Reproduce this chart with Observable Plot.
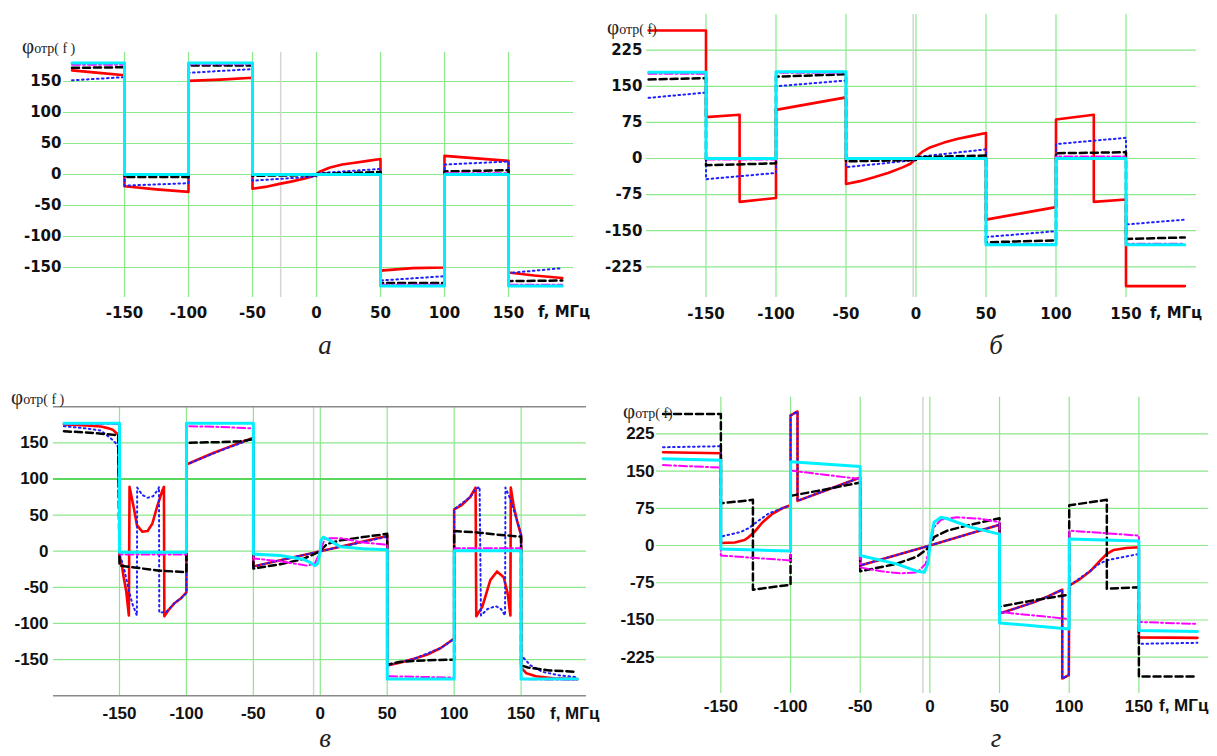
<!DOCTYPE html>
<html><head><meta charset="utf-8">
<script src="https://cdn.jsdelivr.net/npm/d3@7"></script>
<script src="https://cdn.jsdelivr.net/npm/@observablehq/plot@0.6"></script>
<style>
html,body{margin:0;padding:0;background:#fff;}
#root{position:relative;width:1217px;height:756px;overflow:hidden;background:#fff;}
#root svg{position:absolute;left:0;top:0;}
#root svg g[aria-label$="tick label"], #root svg g[aria-label$="tick label"] text{font-weight:bold !important;}
.lbl{position:absolute;white-space:nowrap;transform:translateY(-50%);line-height:1;color:#111;font-weight:bold;}
.ttl{position:absolute;white-space:nowrap;font-family:"Liberation Serif","DejaVu Serif",serif;color:#222;transform:translateY(-50%);line-height:1;font-size:21px;}
.ttl span{font-size:14px;}
.cap{position:absolute;font-family:"Liberation Serif","DejaVu Serif",serif;font-style:italic;font-size:27px;transform:translate(-50%,-50%);line-height:1;color:#222;}
</style></head><body><div id="root"></div>
<script>
// ---------- tick values ----------
const xTicks = [-150, -100, -50, 0, 50, 100, 150];
const yTicks50 = [-150, -100, -50, 0, 50, 100, 150];
const yTicks75 = [-225, -150, -75, 0, 75, 150, 225];
const vGridBold = [100];

// ---------- panel а : [f MHz, phase deg] ----------
const aRed = [[-191,168],[-170,164],[-150,160],[-150,-19],[-125,-24],[-100,-28],[-100,151],[-75,153],[-50,156],[-50,-23],[-40,-20],[-30,-15.5],[-20,-11.5],[-10,-7],[-4,-3.5],[0,0],[2,4],[10,11],[20,16],[30,19],[40,22],[50,25],[50,-155],[75,-151],[100,-150],[100,30],[125,26],[150,22],[150,-158],[170,-163],[192,-167]];
const aBlue = [[-191,152],[-150,157],[-150,-18],[-100,-14],[-100,164],[-50,170],[-50,-10],[0,-3],[0,2],[50,9],[50,-171],[100,-164],[100,16],[150,21],[150,-159],[192,-151]];
const aBlack = [[-191,172],[-150,173],[-150,-4],[-100,-4],[-100,176],[-50,176],[-50,-2],[0,-1],[0,1],[50,4],[50,-175],[100,-175],[100,5],[150,7],[150,-172],[192,-171]];
const aMagenta = [[-191,177],[-150,177],[-150,-1],[-100,-1],[-100,178],[-50,178],[-50,-1],[0,0],[50,1],[50,-178],[100,-178],[100,2],[150,2],[150,-178],[192,-178]];
const aCyan = [[-191,180],[-150,180],[-150,0],[-100,0],[-100,180],[-50,180],[-50,0],[50,0],[50,-180],[100,-180],[100,0],[150,0],[150,-180],[192,-180]];

// ---------- panel б ----------
const bRed = [[-191,266],[-150,266],[-150,86],[-126,91],[-126,-90],[-100,-82],[-100,101],[-75,114],[-50,127],[-50,-53],[-40,-47],[-30,-39],[-20,-30],[-10,-19],[-4,-11],[0,0],[2,8],[5,15],[10,23],[20,33],[30,41],[40,47],[50,53],[50,-127],[75,-114],[100,-101],[100,81],[127,91],[127,-90],[150,-85],[150,-265],[192,-265]];
const bBlue = [[-191,126],[-150,137],[-150,-43],[-100,-30],[-100,150],[-50,162],[-50,-18],[0,-3],[0,3],[50,19],[50,-163],[100,-151],[100,30],[150,43],[150,-137],[192,-127]];
const bBlack = [[-191,164],[-150,167],[-150,-14],[-100,-10],[-100,170],[-50,175],[-50,-6],[0,-3],[0,3],[50,6],[50,-174],[100,-170],[100,11],[150,13],[150,-167],[192,-164]];
const bMagenta = [[-191,176],[-150,176],[-150,-2],[-100,-2],[-100,178],[-50,178],[-50,-1],[0,0],[50,1],[50,-178],[100,-178],[100,4],[150,4],[150,-177],[192,-177]];
const bCyan = [[-191,179],[-150,179],[-150,0],[-100,0],[-100,180],[-50,180],[-50,0],[50,0],[50,-179],[100,-179],[100,0],[150,0],[150,-179],[192,-179]];

// ---------- panel в ----------
const vRed = [[-191.5,175.5],[-175,174],[-164,172.5],[-158,170],[-155,168],[-152,163],[-150.5,160],[-150,-6],[-148,-22],[-147,-35],[-145,-55],[-143,-89],[-142.5,89],[-139,57],[-137,36],[-133,27],[-129,28],[-125.5,38],[-122,61],[-118,84],[-116.8,89],[-116.5,-90],[-114,-83],[-109,-72],[-104,-65],[-100,-57],[-100,120],[-90,128],[-80,136],[-70,143],[-60,150],[-50,157],[-50,-21],[0,0],[50,21],[50,-158],[60,-154],[70,-149],[80,-143],[90,-134],[100,-121],[100,58],[105,63],[112,75],[116,88],[116.5,-90],[121,-77],[127,-40],[132,-28],[137,-36],[140,-59],[142,-89],[142.3,88],[144.6,61],[147,42],[150,22],[150,-161],[154,-169],[161,-173],[174,-176],[192,-177]];
const vBlue = [[-191.5,173],[-175,170],[-164,167],[-157,157],[-153,150],[-151,144],[-150,-5],[-147,-20],[-143,-55],[-140,-75],[-138,-84],[-137,-89],[-136.8,88],[-133,78],[-129,74],[-125,76],[-121,86],[-120.5,89],[-120.3,-85],[-115,-84],[-109,-72],[-104,-65],[-100,-58],[-100,120],[-75,139],[-50,156],[-50,-21],[0,0],[50,20],[50,-158],[70,-149],[90,-134],[100,-121],[100,58],[112,75],[116,86],[119,89],[120,-89],[125,-80],[131,-76],[135,-80],[138,-89],[138.3,88],[142,72],[146,48],[150,24],[150,-144],[157,-158],[166,-167],[179,-172],[192,-174.5]];
const vBlack = [[-191.5,166],[-172,164],[-154,161],[-151,161],[-150,-20],[-137,-23],[-120,-27],[-100,-29],[-100,150],[-75,151],[-60,152],[-50,155],[-50,-24],[-30,-18],[-13,-11],[-1,-1],[5,10],[15,15],[32,19.5],[50,24],[50,-157],[60,-153],[80,-151],[100,-150],[100,28],[117,26],[132,23],[150,20],[150,-158],[155,-161],[171,-165],[192,-167]];
const vMagenta = [[-191.5,176],[-150,176],[-150,-4.5],[-100,-4.5],[-100,173],[-75,172],[-50,170],[-50,-10],[-30,-14],[-10,-20],[-4,-17],[0,0],[3.5,18],[15,18],[32,12],[50,9],[50,-173],[75,-174],[100,-175],[100,4],[150,4],[150,-177],[192,-178]];
const vCyan = [[-191.5,177],[-150,177],[-150,-1.5],[-100,-1.5],[-100,177],[-50,177],[-50,-4],[-30,-6],[-13,-11],[-8,-15],[-4,-20],[-2,-17],[0,0],[0.5,15],[2.3,19.5],[7,15],[15,6],[32,3.5],[50,2],[50,-177],[100,-177],[100,0.5],[150,0.5],[150,-177],[192,-177]];

// ---------- panel г ----------
const gRed = [[-191.5,188],[-150,186],[-150,5],[-140,6],[-133,11],[-130,17],[-126,27],[-120,47],[-113,64],[-106,75],[-100,81],[-100,262],[-95,270],[-95,90],[-72,114],[-50,137],[-50,-40],[0,0],[50,42],[50,-137],[60,-128],[75,-114],[85,-102],[95,-89],[95,-268],[99.7,-261],[100,-81],[108,-67],[115,-52],[122,-31],[127,-17],[132,-9],[141,-5],[150,-3.5],[150,-185],[192,-186]];
const gBlue = [[-191.5,198],[-150,200],[-150,18],[-136,27],[-130,35],[-123,50],[-116,64],[-106,75],[-100,81],[-100,262],[-95,270],[-95,90],[-72,114],[-50,137],[-50,-40],[0,0],[50,42],[50,-137],[60,-128],[75,-114],[85,-102],[95,-89],[95,-268],[99.7,-261],[100,-81],[115,-51],[122,-36],[127,-30],[132,-27],[141,-22],[150,-17],[150,-198],[192,-196]];
const gBlack = [[-191.5,265],[-150,265],[-150,85],[-127,92],[-127,-89],[-100,-79],[-100,100],[-75,113],[-50,127],[-50,-52],[-24,-37],[-9,-22],[-2,-7],[0,0],[3,17],[12.5,30],[29,42],[50,55],[50,-123],[75,-110],[100,-99],[100,81],[127,92],[127,-87],[150,-84],[150,-264],[190,-264]];
const gMagenta = [[-191.5,162],[-150,157],[-150,-20],[-100,-30],[-100,151],[-50,134],[-50,-44],[-35,-52],[-21,-56],[-9,-54],[-3,-37],[0,0],[3,37],[8,52],[19.5,57],[36,54],[50,47],[50,-134],[75,-141],[100,-148],[100,30],[150,20],[150,-154],[192,-158]];
const gCyan = [[-191.5,175],[-150,172],[-150,-7],[-100,-11],[-100,169],[-50,159],[-50,-20],[-24,-37],[-9,-52],[-4,-54],[-1.5,-37],[0.5,10],[3,47],[8,57],[12.5,54],[29,37],[50,23],[50,-156],[100,-168],[100,13],[150,9],[150,-171],[192,-173]];

// ---------- styles ----------
const GRID = "#8be88b";
const W = 1217, H = 756;
const root = document.getElementById("root");

function panel(cfg) {
  const fx = d => d[0], fy = d => d[1];
  const marks = [
    Plot.ruleY(cfg.yTicks, {stroke: GRID, strokeWidth: 1.2}),
    Plot.ruleX(xTicks, {stroke: GRID, strokeWidth: 1.2}),
    Plot.ruleX([cfg.grayF], {stroke: "#d4d4d4", strokeWidth: 1.5})
  ];
  if (cfg.bold) marks.push(Plot.ruleY(cfg.bold, {stroke: "#5ad65a", strokeWidth: 2}));
  if (cfg.frame) marks.push(Plot.ruleY(cfg.yDomain, {stroke: "#8a8a8a", strokeWidth: 1.5}));
  marks.push(
    Plot.line(cfg.red, {x: fx, y: fy, stroke: "#ff0000", strokeWidth: 2.6}),
    Plot.line(cfg.blue, {x: fx, y: fy, stroke: "#1f1fff", strokeWidth: 2, strokeDasharray: "1.6,3.4"}),
    Plot.line(cfg.black, {x: fx, y: fy, stroke: "#000", strokeWidth: 2.5, strokeDasharray: "7,4"}),
    Plot.line(cfg.magenta, {x: fx, y: fy, stroke: "#ff00ff", strokeWidth: 2, strokeDasharray: "8,3,2,3"}),
    Plot.line(cfg.cyan, {x: fx, y: fy, stroke: "#00f0ff", strokeWidth: 3}),
    Plot.axisY({ticks: cfg.yTicks, tickSize: 0, tickPadding: cfg.yPad, tickFormat: d => String(d),
      fontSize: cfg.fs, fontWeight: "bold", fontFamily: cfg.font, fill: "#111", label: null}),
    Plot.axisX({ticks: xTicks, tickSize: 0, tickPadding: cfg.xPad, tickFormat: d => String(d),
      fontSize: cfg.fs, fontWeight: "bold", fontFamily: cfg.font, fill: "#111", label: null})
  );
  const svg = Plot.plot({
    width: W, height: H,
    marginLeft: cfg.box[0], marginRight: W - cfg.box[1],
    marginTop: cfg.box[2], marginBottom: H - cfg.box[3],
    x: {domain: cfg.xDomain},
    y: {domain: cfg.yDomain},
    style: {background: "transparent", overflow: "visible"},
    marks
  });
  svg.querySelectorAll('g[aria-label$="tick label"]').forEach(g => g.setAttribute("font-weight", "bold"));
  root.appendChild(svg);
}

const SANS_A = "'DejaVu Sans', Verdana, sans-serif";
const SANS_B = "'Liberation Sans', Arial, sans-serif";

panel({red: aRed, blue: aBlue, black: aBlack, magenta: aMagenta, cyan: aCyan,
  box: [63, 573, 52, 297], xDomain: [-197.66, 200.78], yDomain: [-198.4, 196.8],
  yTicks: yTicks50, font: SANS_A, fs: 15, yPad: 2, xPad: 9.5, grayF: -28});
panel({red: bRed, blue: bBlue, black: bBlack, magenta: bMagenta, cyan: bCyan,
  box: [646, 1196, 14, 297], xDomain: [-192.5, 200.36], yDomain: [-288.7, 299.1],
  yTicks: yTicks75, font: SANS_A, fs: 15, yPad: 4, xPad: 10.5, grayF: -2});
panel({red: vRed, blue: vBlue, black: vBlack, magenta: vMagenta, cyan: vCyan,
  box: [53, 586, 406.2, 695.2], xDomain: [-199.3, 198.85], yDomain: [-200, 200],
  yTicks: yTicks50, font: SANS_B, fs: 17, yPad: 5, xPad: 11.5, grayF: -5, frame: true, bold: vGridBold});
panel({red: gRed, blue: gBlue, black: gBlack, magenta: gMagenta, cyan: gCyan,
  box: [656, 1208, 396.7, 693], xDomain: [-196.2, 199.96], yDomain: [-298.1, 298.8],
  yTicks: yTicks75, font: SANS_B, fs: 17, yPad: 2, xPad: 6, grayF: -5});

// ---------- text overlays ----------
function addText(cls, html, x, y, style) {
  const d = document.createElement("div");
  d.className = cls; d.innerHTML = html;
  d.style.left = x + "px"; d.style.top = y + "px";
  if (style) Object.assign(d.style, style);
  root.appendChild(d);
}
addText("ttl", "φ<span>отр( f )</span>", 22, 46);
addText("ttl", "φ<span>отр( f)</span>", 607, 27);
addText("ttl", "φ<span>отр( f )</span>", 11, 397);
addText("ttl", "φ<span>отр( f)</span>", 623, 411);
addText("lbl", "f, МГц", 538, 312, {fontFamily: SANS_A, fontSize: "15px"});
addText("lbl", "f, МГц", 1150, 313, {fontFamily: SANS_A, fontSize: "15px"});
addText("lbl", "f, МГц", 550, 713, {fontFamily: SANS_B, fontSize: "17px"});
addText("lbl", "f, МГц", 1159, 705, {fontFamily: SANS_B, fontSize: "17px"});
addText("cap", "а", 325, 345);
addText("cap", "б", 996, 345);
addText("cap", "в", 325, 738);
addText("cap", "г", 996, 738);
</script></body></html>
